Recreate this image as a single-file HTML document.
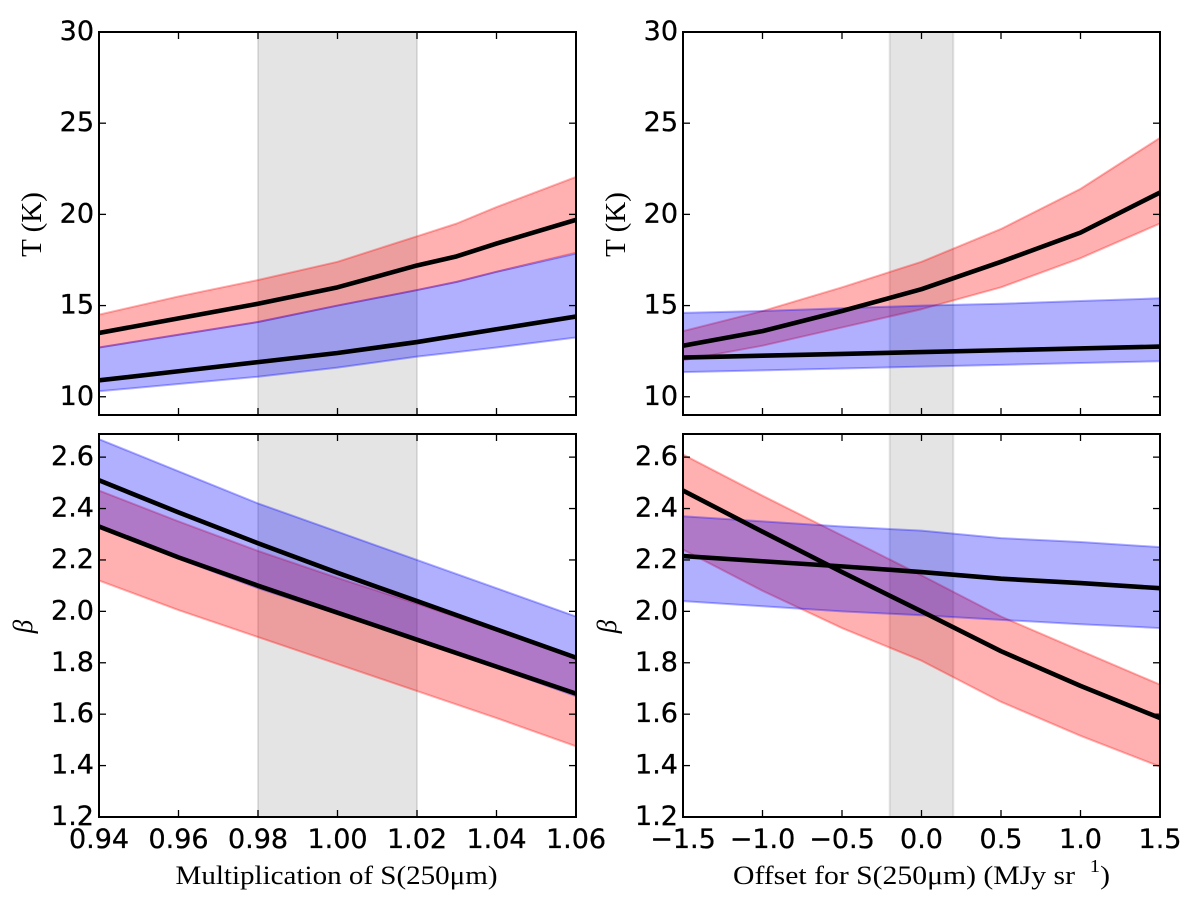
<!DOCTYPE html>
<html lang="en">
<head>
<meta charset="utf-8">
<title>Dust temperature and beta versus S(250 micron) calibration</title>
<style>
html,body{margin:0;padding:0;background:#fff;width:1200px;height:904px;overflow:hidden}
svg{display:block}
.tick-label{font-family:"DejaVu Sans","Liberation Sans",sans-serif;font-size:27px;fill:#000;stroke:#000;stroke-width:0.3px}
.axis-title{font-family:"Liberation Serif",serif;fill:#000}
</style>
</head>
<body>
<svg id="chart" xmlns="http://www.w3.org/2000/svg" width="1200" height="904" viewBox="0 0 1200 904"></svg>
<script>
// Shared x categories and tick labels
const multX = [0.94, 0.96, 0.98, 1.00, 1.02, 1.04, 1.06];
const tempMultX = [0.94, 0.96, 0.98, 1.00, 1.02, 1.03, 1.04, 1.06];
const offsetX = [-1.5, -1.0, -0.5, 0.0, 0.5, 1.0, 1.5];
const multTicks = [0.94, 0.96, 0.98, 1.00, 1.02, 1.04, 1.06];
const offsetTicks = [-1.5, -1.0, -0.5, 0.0, 0.5, 1.0, 1.5];
const tempTicks = [10, 15, 20, 25, 30];
const betaTicks = [1.2, 1.4, 1.6, 1.8, 2.0, 2.2, 2.4, 2.6];
const multSpan = [0.98, 1.02];
const offsetSpan = [-0.2, 0.2];

// Top-left: T vs multiplication
const tlRedUpper = [14.5, 15.5, 16.4, 17.4, 18.8, 19.5, 20.4, 22.05];
const tlRedMid = [13.5, 14.3, 15.1, 16.0, 17.2, 17.7, 18.4, 19.7];
const tlRedLower = [12.7, 13.4, 14.1, 15.0, 15.85, 16.3, 16.85, 17.9];
const tlBlueUpper = [12.7, 13.4, 14.1, 15.0, 15.85, 16.3, 16.85, 17.85];
const tlBlueMid = [10.9, 11.4, 11.9, 12.4, 13.0, 13.35, 13.7, 14.4];
const tlBlueLower = [10.3, 10.7, 11.1, 11.6, 12.2, 12.45, 12.7, 13.25];

// Top-right: T vs offset
const trRedUpper = [13.6, 14.7, 16.0, 17.4, 19.2, 21.4, 24.2];
const trRedMid = [12.8, 13.6, 14.7, 15.9, 17.4, 19.0, 21.2];
const trRedLower = [12.0, 12.8, 13.8, 14.8, 16.0, 17.6, 19.5];
const trBlueUpper = [14.6, 14.7, 14.85, 15.0, 15.1, 15.25, 15.4];
const trBlueMid = [12.15, 12.25, 12.35, 12.45, 12.55, 12.65, 12.75];
const trBlueLower = [11.35, 11.45, 11.55, 11.65, 11.75, 11.85, 11.95];

// Bottom-left: beta vs multiplication
const blRedUpper = [2.47, 2.35, 2.235, 2.13, 2.03, 1.925, 1.82];
const blRedMid = [2.33, 2.21, 2.10, 1.995, 1.89, 1.785, 1.68];
const blRedLower = [2.12, 2.005, 1.90, 1.795, 1.69, 1.585, 1.475];
const blBlueUpper = [2.67, 2.545, 2.42, 2.31, 2.20, 2.09, 1.98];
const blBlueMid = [2.51, 2.385, 2.265, 2.15, 2.04, 1.93, 1.82];
const blBlueLower = [2.33, 2.205, 2.09, 1.99, 1.89, 1.78, 1.67];

// Bottom-right: beta vs offset
const brRedUpper = [2.61, 2.45, 2.295, 2.14, 1.98, 1.847, 1.715];
const brRedMid = [2.47, 2.31, 2.153, 2.0, 1.845, 1.71, 1.585];
const brRedLower = [2.24, 2.08, 1.935, 1.808, 1.648, 1.516, 1.396];
const brBlueUpper = [2.37, 2.35, 2.33, 2.314, 2.285, 2.27, 2.25];
const brBlueMid = [2.215, 2.195, 2.175, 2.153, 2.127, 2.11, 2.09];
const brBlueLower = [2.04, 2.02, 2.0, 1.985, 1.967, 1.95, 1.935];

const NS = 'http://www.w3.org/2000/svg';
const svg = document.getElementById('chart');

function make(parent, tag, attrs, name) {
  const el = document.createElementNS(NS, tag);
  for (const k in attrs) el.setAttribute(k, attrs[k]);
  
  
  parent.appendChild(el);
  return el;
}

function drawPanel(p) {
  const sx = v => p.left + (v - p.xMin) / (p.xMax - p.xMin) * (p.right - p.left);
  const sy = v => p.bottom - (v - p.yMin) / (p.yMax - p.yMin) * (p.bottom - p.top);
  const w = p.right - p.left, h = p.bottom - p.top;
  const g = make(svg, 'g', {}, p.id + '-panel');
  const clipId = p.id + '-clip';
  const defs = make(g, 'defs', {}, p.id + '-defs');
  const clip = make(defs, 'clipPath', {id: clipId}, p.id + '-clip-path');
  make(clip, 'rect', {x: p.left, y: p.top, width: w, height: h}, p.id + '-clip-rect');
  const plot = make(g, 'g', {'clip-path': 'url(#' + clipId + ')'}, p.id + '-plot-area');

  make(plot, 'rect', {
    x: sx(p.span[0]), y: p.top, width: sx(p.span[1]) - sx(p.span[0]), height: h,
    fill: '#808080', 'fill-opacity': 0.21, stroke: '#808080', 'stroke-opacity': 0.21, 'stroke-width': 2
  }, p.id + '-calibration-span');

  const bands = [
    {key: 'red', color: '#ff0000', up: p.redUpper, lo: p.redLower, mid: p.redMid},
    {key: 'blue', color: '#0000ff', up: p.blueUpper, lo: p.blueLower, mid: p.blueMid}
  ];
  bands.forEach(b => {
    const top = p.x.map((v, i) => sx(v).toFixed(2) + ',' + sy(b.up[i]).toFixed(2));
    const low = p.x.map((v, i) => sx(v).toFixed(2) + ',' + sy(b.lo[i]).toFixed(2)).reverse();
    make(plot, 'polygon', {
      points: top.concat(low).join(' '),
      fill: b.color, 'fill-opacity': 0.31, stroke: b.color, 'stroke-opacity': 0.31,
      'stroke-width': 2, 'stroke-linejoin': 'round'
    }, p.id + '-' + b.key + '-band');
  });
  bands.forEach(b => {
    const pts = p.x.map((v, i) => sx(v).toFixed(2) + ',' + sy(b.mid[i]).toFixed(2)).join(' ');
    make(plot, 'polyline', {
      points: pts, fill: 'none', stroke: '#000', 'stroke-width': 4.6, 'stroke-linejoin': 'round'
    }, p.id + '-' + b.key + '-median-line');
  });

  const TL = 7;
  p.xTicks.forEach(v => {
    const x = sx(v);
    make(g, 'line', {x1: x, x2: x, y1: p.bottom, y2: p.bottom - TL, stroke: '#000', 'stroke-width': 1.3}, p.id + '-x-tick-bottom');
    make(g, 'line', {x1: x, x2: x, y1: p.top, y2: p.top + TL, stroke: '#000', 'stroke-width': 1.3}, p.id + '-x-tick-top');
    if (p.xFormat) {
      const t = make(g, 'text', {x: x, y: 848, 'text-anchor': 'middle', class: 'tick-label'}, p.id + '-x-tick-label');
      t.textContent = p.xFormat(v);
    }
  });
  p.yTicks.forEach(v => {
    const y = sy(v);
    make(g, 'line', {x1: p.left, x2: p.left + TL, y1: y, y2: y, stroke: '#000', 'stroke-width': 1.3}, p.id + '-y-tick-left');
    make(g, 'line', {x1: p.right, x2: p.right - TL, y1: y, y2: y, stroke: '#000', 'stroke-width': 1.3}, p.id + '-y-tick-right');
    const t = make(g, 'text', {x: p.left - 5, y: y + 8, 'text-anchor': 'end', class: 'tick-label'}, p.id + '-y-tick-label');
    t.textContent = p.yFormat(v);
  });

  make(g, 'rect', {x: p.left, y: p.top, width: w, height: h, fill: 'none', stroke: '#000', 'stroke-width': 2}, p.id + '-axes-frame');

  const yt = make(g, 'text', {
    transform: 'translate(' + (p.left - p.yTitleGap) + ',' + ((p.top + p.bottom) / 2 + 1) + ') rotate(-90)',
    'text-anchor': 'middle', class: 'axis-title', 'font-size': p.yTitleSize, 'font-style': p.yTitleStyle
  }, p.id + '-y-axis-title');
  yt.textContent = p.yTitle;

  if (p.xTitle) {
    const xt = make(g, 'text', {
      x: (p.left + p.right) / 2 + p.xTitleShift, y: 884, 'text-anchor': 'middle', class: 'axis-title',
      'font-size': 26, textLength: p.xTitleWidth, lengthAdjust: 'spacingAndGlyphs', 'xml:space': 'preserve'
    }, p.id + '-x-axis-title');
    xt.appendChild(document.createTextNode(p.xTitle));
    if (p.xTitleSup) {
      const sup = make(xt, 'tspan', {dy: -12, 'font-size': 18}, p.id + '-x-axis-unit-exponent');
      sup.textContent = p.xTitleSup;
      const close = make(xt, 'tspan', {dy: 12}, p.id + '-x-axis-title-close');
      close.textContent = ')';
    }
  }
}

const fmtMult = v => v.toFixed(2);
const fmtOffset = v => v.toFixed(1).replace('-', '\u2212');
const fmtBeta = v => v.toFixed(1);
const fmtTemp = v => String(v);

drawPanel({
  id: 'temperature-multiplication', left: 99, right: 576, top: 32, bottom: 415,
  xMin: 0.94, xMax: 1.06, yMin: 9, yMax: 30, x: tempMultX, span: multSpan,
  xTicks: multTicks, yTicks: tempTicks, yFormat: fmtTemp,
  redUpper: tlRedUpper, redMid: tlRedMid, redLower: tlRedLower,
  blueUpper: tlBlueUpper, blueMid: tlBlueMid, blueLower: tlBlueLower,
  yTitle: 'T (K)', yTitleSize: 29, yTitleStyle: 'normal', yTitleGap: 58
});
drawPanel({
  id: 'temperature-offset', left: 683, right: 1160, top: 32, bottom: 415,
  xMin: -1.5, xMax: 1.5, yMin: 9, yMax: 30, x: offsetX, span: offsetSpan,
  xTicks: offsetTicks, yTicks: tempTicks, yFormat: fmtTemp,
  redUpper: trRedUpper, redMid: trRedMid, redLower: trRedLower,
  blueUpper: trBlueUpper, blueMid: trBlueMid, blueLower: trBlueLower,
  yTitle: 'T (K)', yTitleSize: 29, yTitleStyle: 'normal', yTitleGap: 58
});
drawPanel({
  id: 'beta-multiplication', left: 99, right: 576, top: 434, bottom: 817,
  xMin: 0.94, xMax: 1.06, yMin: 1.2, yMax: 2.69, x: multX, span: multSpan,
  xTicks: multTicks, yTicks: betaTicks, xFormat: fmtMult, yFormat: fmtBeta,
  redUpper: blRedUpper, redMid: blRedMid, redLower: blRedLower,
  blueUpper: blBlueUpper, blueMid: blBlueMid, blueLower: blBlueLower,
  yTitle: '\u03B2', yTitleSize: 27, yTitleStyle: 'italic', yTitleGap: 67,
  xTitle: 'Multiplication of S(250\u03BCm)', xTitleWidth: 322, xTitleShift: -1
});
drawPanel({
  id: 'beta-offset', left: 683, right: 1160, top: 434, bottom: 817,
  xMin: -1.5, xMax: 1.5, yMin: 1.2, yMax: 2.69, x: offsetX, span: offsetSpan,
  xTicks: offsetTicks, yTicks: betaTicks, xFormat: fmtOffset, yFormat: fmtBeta,
  redUpper: brRedUpper, redMid: brRedMid, redLower: brRedLower,
  blueUpper: brBlueUpper, blueMid: brBlueMid, blueLower: brBlueLower,
  yTitle: '\u03B2', yTitleSize: 27, yTitleStyle: 'italic', yTitleGap: 67,
  xTitle: 'Offset for S(250\u03BCm) (MJy sr \u00A0', xTitleSup: '1', xTitleWidth: 377, xTitleShift: 0
});
</script>
</body>
</html>
